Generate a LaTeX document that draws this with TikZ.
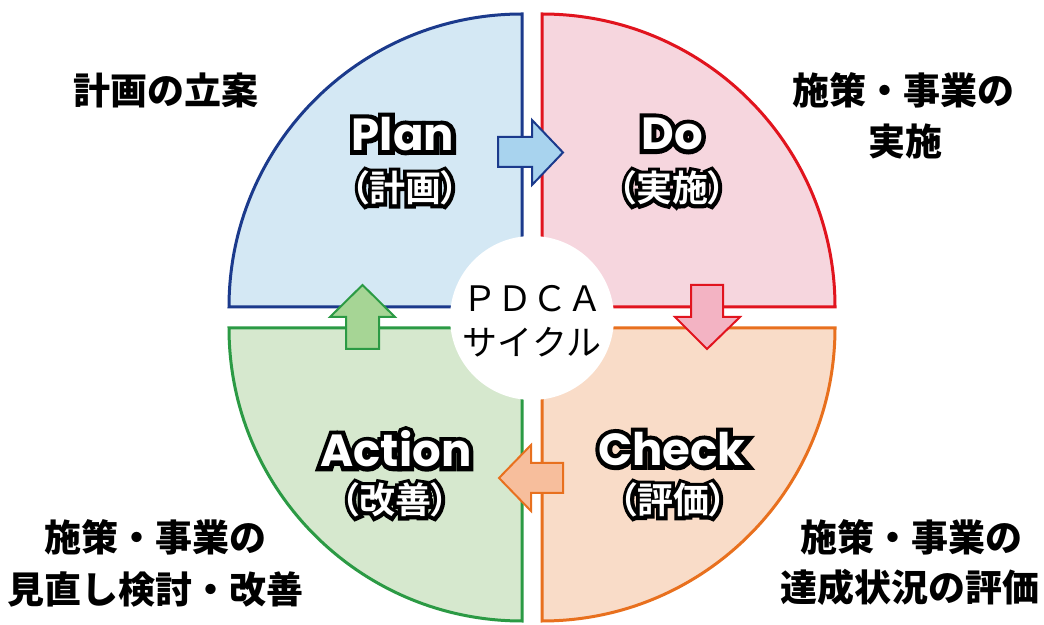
\documentclass[tikz,border=0pt]{standalone}
\usepackage{fontspec}
\newfontfamily\jp{Noto Sans CJK JP}
\newfontfamily\jpw{Noto Sans CJK JP}[UprightFont={* Bold}, RawFeature=+palt]
\newfontfamily\jpk{Noto Sans CJK JP}[UprightFont={* Bold}, RawFeature=+palt, FakeBold=20]
\newfontfamily\latw{Poppins}[UprightFont={* Bold}]
\newfontfamily\latk{Poppins}[UprightFont={* Bold}, FakeBold=20]
\definecolor{planfill}{HTML}{D4E8F4}
\definecolor{planline}{HTML}{1B3A8C}
\definecolor{dofill}{HTML}{F6D6DE}
\definecolor{doline}{HTML}{E1141E}
\definecolor{checkfill}{HTML}{F9DCC8}
\definecolor{checkline}{HTML}{E8701E}
\definecolor{actfill}{HTML}{D6E8CE}
\definecolor{actline}{HTML}{2B9A44}
\definecolor{planarr}{HTML}{A8D3EE}
\definecolor{doarr}{HTML}{F3B3C3}
\definecolor{checkarr}{HTML}{F7BE9C}
\definecolor{actarr}{HTML}{A6D595}
% outlined text: black emboldened copy under a white copy
\newcommand\olt[4]{\leavevmode\rlap{\color{black}#1\fontsize{#3}{#3}\selectfont #4}{\color{white}#2\fontsize{#3}{#3}\selectfont #4}}
\newcommand\latol[1]{\olt{\latk}{\latw}{45}{#1}}
\newcommand\jpol[1]{\olt{\jpk}{\jpw}{36}{#1}}
\tikzset{
  sector/.style={line width=3pt, line join=miter},
  blockarrow/.style={line width=2pt, line join=miter},
  lbl/.style={inner sep=0pt},
  corner/.style={inner sep=0pt, font=\jp\bfseries\fontsize{37}{37}\selectfont, text=black},
  centertxt/.style={inner sep=0pt, font=\jp\fontsize{35}{35}\selectfont, text=black}
}
\begin{document}
\begin{tikzpicture}[x=1pt,y=1pt]
\useasboundingbox (0,0) rectangle (1044,624);
\fill[white] (0,0) rectangle (1044,624);
% sectors
\draw[sector, draw=planline, fill=planfill] (522,317) -- ++(0,293) arc[start angle=90, end angle=180, radius=293] -- cycle;
\draw[sector, draw=doline, fill=dofill] (542,317) -- ++(293,0) arc[start angle=0, end angle=90, radius=293] -- cycle;
\draw[sector, draw=checkline, fill=checkfill] (542,296) -- ++(0,-293) arc[start angle=270, end angle=360, radius=293] -- cycle;
\draw[sector, draw=actline, fill=actfill] (522,296) -- ++(-293,0) arc[start angle=180, end angle=270, radius=293] -- cycle;
% centre circle
\node[circle, fill=white, minimum size=164pt, inner sep=0pt] (hub) at (532,306) {};
\node[centertxt] (pdca) at (532,325) {ＰＤＣＡ};
\node[centertxt] (cycle) at (532,282) {サイクル};
% block arrows
\draw[blockarrow, draw=planline, fill=planarr] (498,457) -- (532,457) -- (532,439) -- (563,471.5) -- (532,504) -- (532,487) -- (498,487) -- cycle;
\draw[blockarrow, draw=doline, fill=doarr] (691,339) -- (723,339) -- (723,307) -- (740,307) -- (707,275) -- (675,307) -- (691,307) -- cycle;
\draw[blockarrow, draw=checkline, fill=checkarr] (563,161) -- (531,161) -- (531,179) -- (499,146) -- (531,113) -- (531,131) -- (563,131) -- cycle;
\draw[blockarrow, draw=actline, fill=actarr] (346,275) -- (379,275) -- (379,307) -- (395,307) -- (362.5,339) -- (330,307) -- (346,307) -- cycle;
% phase labels
\node[lbl] (plan) at (403,490) {\latol{Plan}};
\node[lbl] (plank) at (405,436) {\jpol{（計画）}};
\node[lbl] (do) at (672,490) {\latol{Do}};
\node[lbl] (dok) at (672,436) {\jpol{（実施）}};
\node[lbl] (check) at (672,175) {\latol{Check}};
\node[lbl] (checkk) at (673,124) {\jpol{（評価）}};
\node[lbl] (action) at (396,175) {\latol{Action}};
\node[lbl] (actionk) at (395,124) {\jpol{（改善）}};
% corner texts
\node[corner] (tl) at (166,534) {計画の立案};
\node[corner] (tr1) at (903,534) {施策・事業の};
\node[corner] (tr2) at (905,483) {実施};
\node[corner] (bl1) at (155,87) {施策・事業の};
\node[corner] (bl2) at (155,35) {見直し検討・改善};
\node[corner] (br1) at (911,87) {施策・事業の};
\node[corner] (br2) at (910,37) {達成状況の評価};
\end{tikzpicture}
\end{document}
